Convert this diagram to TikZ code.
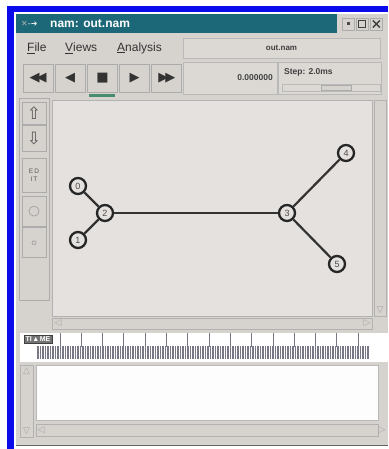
\documentclass[tikz,border=0pt]{standalone}
\usepackage{fontspec}
\setmainfont{Liberation Sans}
\newfontfamily\symfont{DejaVu Sans}
\usetikzlibrary{positioning,chains}
\definecolor{winblue}{RGB}{12,12,235}
\definecolor{titleteal}{RGB}{28,104,120}
\definecolor{panel}{RGB}{214,210,206}
\definecolor{canvas}{RGB}{229,225,222}
\definecolor{linkgray}{RGB}{50,50,50}
\definecolor{tickgray}{RGB}{120,120,135}
\definecolor{okgreen}{RGB}{70,140,110}

\begin{document}
\begin{tikzpicture}[x=1pt,y=-1pt,
  btn/.style={draw=gray!65,fill=panel,line width=0.7pt,inner sep=0pt},
  field/.style={draw=gray!55,fill=panel!85!white,line width=0.7pt,inner sep=0pt},
  tool/.style={btn,minimum width=30pt,minimum height=28pt,font=\symfont\fontsize{13}{13}\selectfont,text=black!80},
  side/.style={btn,minimum width=24pt,font=\symfont\fontsize{17}{17}\selectfont,text=black!65},
  netnode/.style={circle,draw=black!85,line width=2.3pt,fill=canvas,inner sep=0pt,minimum size=16pt,font=\fontsize{9}{9}\selectfont,text=black!70},
  link/.style={draw=linkgray,line width=2.2pt},
  menu/.style={font=\fontsize{12}{12}\selectfont,text=black!80,anchor=west,inner sep=0pt}]
  \useasboundingbox (0,0) rectangle (388,449);
  \fill[white] (0,0) rectangle (388,449);
  % Frame
  \fill[winblue] (7,6) rectangle (388,12);
  \fill[winblue] (7,6) rectangle (14,449);
  \fill[panel] (16,14) rectangle (388,445);
  \draw[black!60,line width=1pt] (16,445) -- (388,445);
  % Title bar
  \fill[titleteal] (16,14) rectangle (337,33);
  \node[anchor=west,inner sep=0pt,font=\symfont\fontsize{8}{8}\selectfont] (icon) at (21,24) {\textcolor{gray!60}{✕}\textcolor{white!85!gray}{-➜}};
  \node[anchor=west,inner sep=0pt,text=white,font=\fontsize{12}{12}\selectfont\bfseries] (title) at (50,24) {nam: out.nam};
  \node[btn,minimum size=12pt] (wmin) at (348,24) {};
  \node[btn,minimum size=12pt,right=1.5pt of wmin] (wmax) {};
  \node[btn,minimum size=12pt,right=1.5pt of wmax] (wclose) {};
  \fill[black!70] (346.5,22.5) rectangle (349.5,25.5);
  \draw[black!75,line width=1.2pt] (wmax.center) ++(-3.5,-3.5) rectangle ++(7,7);
  \draw[black!75,line width=1.5pt] (wclose.center) ++(-3.5,-3.5) -- ++(7,7) ++(0,-7) -- ++(-7,7);
  % Menu
  \node[menu] (file) at (27,48) {\underline{F}ile};
  \node[menu] (views) at (65,48) {\underline{V}iews};
  \node[menu] (analysis) at (117,48) {\underline{A}nalysis};
  \node[field,minimum width=197pt,minimum height=20pt,font=\fontsize{8}{8}\selectfont\bfseries,text=black!75] (fname) at (281.5,48) {out.nam};
  % Toolbar
  \begin{scope}[start chain=tools going right,node distance=1.5pt]
    \node[tool,on chain] (rew) at (38,78) {◀\kern-3pt◀};
    \node[tool,on chain] (back) {◀};
    \node[tool,on chain] (stop) {■};
    \node[tool,on chain] (play) {▶};
    \node[tool,on chain] (ffwd) {▶\kern-3pt▶};
  \end{scope}
  \fill[okgreen] (stop.south west) ++(2,2) rectangle ++(26,2.5);
  \node[field,minimum width=94pt,minimum height=32pt] (clock) at (230,78.5) {};
  \node[anchor=east,inner sep=0pt,font=\fontsize{8.5}{8.5}\selectfont\bfseries,text=black!75] (time) at (273,78) {0.000000};
  \node[field,minimum width=103pt,minimum height=32pt,right=1pt of clock] (stepbox) {};
  \node[anchor=west,inner sep=0pt,font=\fontsize{8.5}{8.5}\selectfont\bfseries,text=black!75] (steplbl) at (284,72) {Step: 2.0ms};
  \node[field,minimum width=98pt,minimum height=7pt] (trough) at (331,88) {};
  \node[btn,minimum width=30pt,minimum height=5pt] (knob) at (336,88) {};
  % Side tools
  \draw[gray!65,line width=0.7pt] (19,98) rectangle (49,300);
  \node[side,minimum height=22pt] (zoomin) at (34,113) {⇧};
  \node[side,minimum height=26pt,below=1pt of zoomin] (zoomout) {⇩};
  \node[side,minimum height=34pt,below=6pt of zoomout,align=center,font=\fontsize{6.5}{8}\selectfont] (edit) {E\,D\\I\,T};
  \node[side,minimum height=30pt,below=3pt of edit] (big) {};
  \node[side,minimum height=30pt,below=1pt of big] (small) {};
  \draw[gray!70,line width=0.8pt] (big.center) circle (5);
  \draw[gray!70,line width=0.8pt] (small.center) circle (2);
  % Canvas
  \fill[canvas] (52,100) rectangle (372,316);
  \draw[gray!60,line width=0.7pt] (52,100) rectangle (372,316);
  \draw[gray!60,line width=0.7pt] (374,100) rectangle (386,316);
  \draw[gray!60,line width=0.7pt] (52,318) rectangle (372,329);
  \node[inner sep=0pt,text=gray!70,font=\symfont\fontsize{9}{9}\selectfont] (vdown) at (380,310) {▽};
  \node[inner sep=0pt,text=gray!70,font=\symfont\fontsize{9}{9}\selectfont] (hleft) at (58,323.5) {◁};
  \node[inner sep=0pt,text=gray!70,font=\symfont\fontsize{9}{9}\selectfont] (hright) at (367,323.5) {▷};
  % Network
  \node[netnode] (n0) at (78,186) {0};
  \node[netnode] (n2) at (105,213) {2};
  \node[netnode] (n1) at (78,240) {1};
  \node[netnode] (n3) at (287,213) {3};
  \node[netnode] (n4) at (346,153) {4};
  \node[netnode] (n5) at (337,264) {5};
  \draw[link] (n0) -- (n2);
  \draw[link] (n1) -- (n2);
  \draw[link] (n2) -- (n3);
  \draw[link] (n3) -- (n4);
  \draw[link] (n3) -- (n5);
  % Time line
  \fill[white] (20,333) rectangle (388,362);
  \foreach \i in {0,...,14}
    \draw[tickgray,line width=0.9pt] ({60+21.3*\i},333) -- ++(0,14);
  \foreach \i in {0,...,132}
    \draw[tickgray,line width=1.2pt] ({38+2.5*\i},346) -- ++(0,13);
  \node[fill=black!55,draw=black!75,inner sep=1.5pt,text=white,font=\fontsize{7}{7}\selectfont\bfseries] (timebtn) at (38,339.5) {TI\kern0.5pt▲\kern0.5pt ME};
  % Log area
  \fill[white!96!panel] (36,365) rectangle (378,420);
  \draw[gray!55,line width=0.7pt] (36,365) rectangle (378,420);
  \draw[gray!60,line width=0.7pt] (20,365) rectangle (33,437);
  \draw[gray!60,line width=0.7pt] (36,424) rectangle (378,436);
  \node[inner sep=0pt,text=gray!70,font=\symfont\fontsize{9}{9}\selectfont] (lup) at (26.5,371) {△};
  \node[inner sep=0pt,text=gray!70,font=\symfont\fontsize{9}{9}\selectfont] (ldown) at (26.5,431) {▽};
  \node[inner sep=0pt,text=gray!70,font=\symfont\fontsize{9}{9}\selectfont] (lleft) at (41,430) {◁};
  \node[inner sep=0pt,text=gray!70,font=\symfont\fontsize{9}{9}\selectfont] (lright) at (382,430) {▷};
\end{tikzpicture}
\end{document}
